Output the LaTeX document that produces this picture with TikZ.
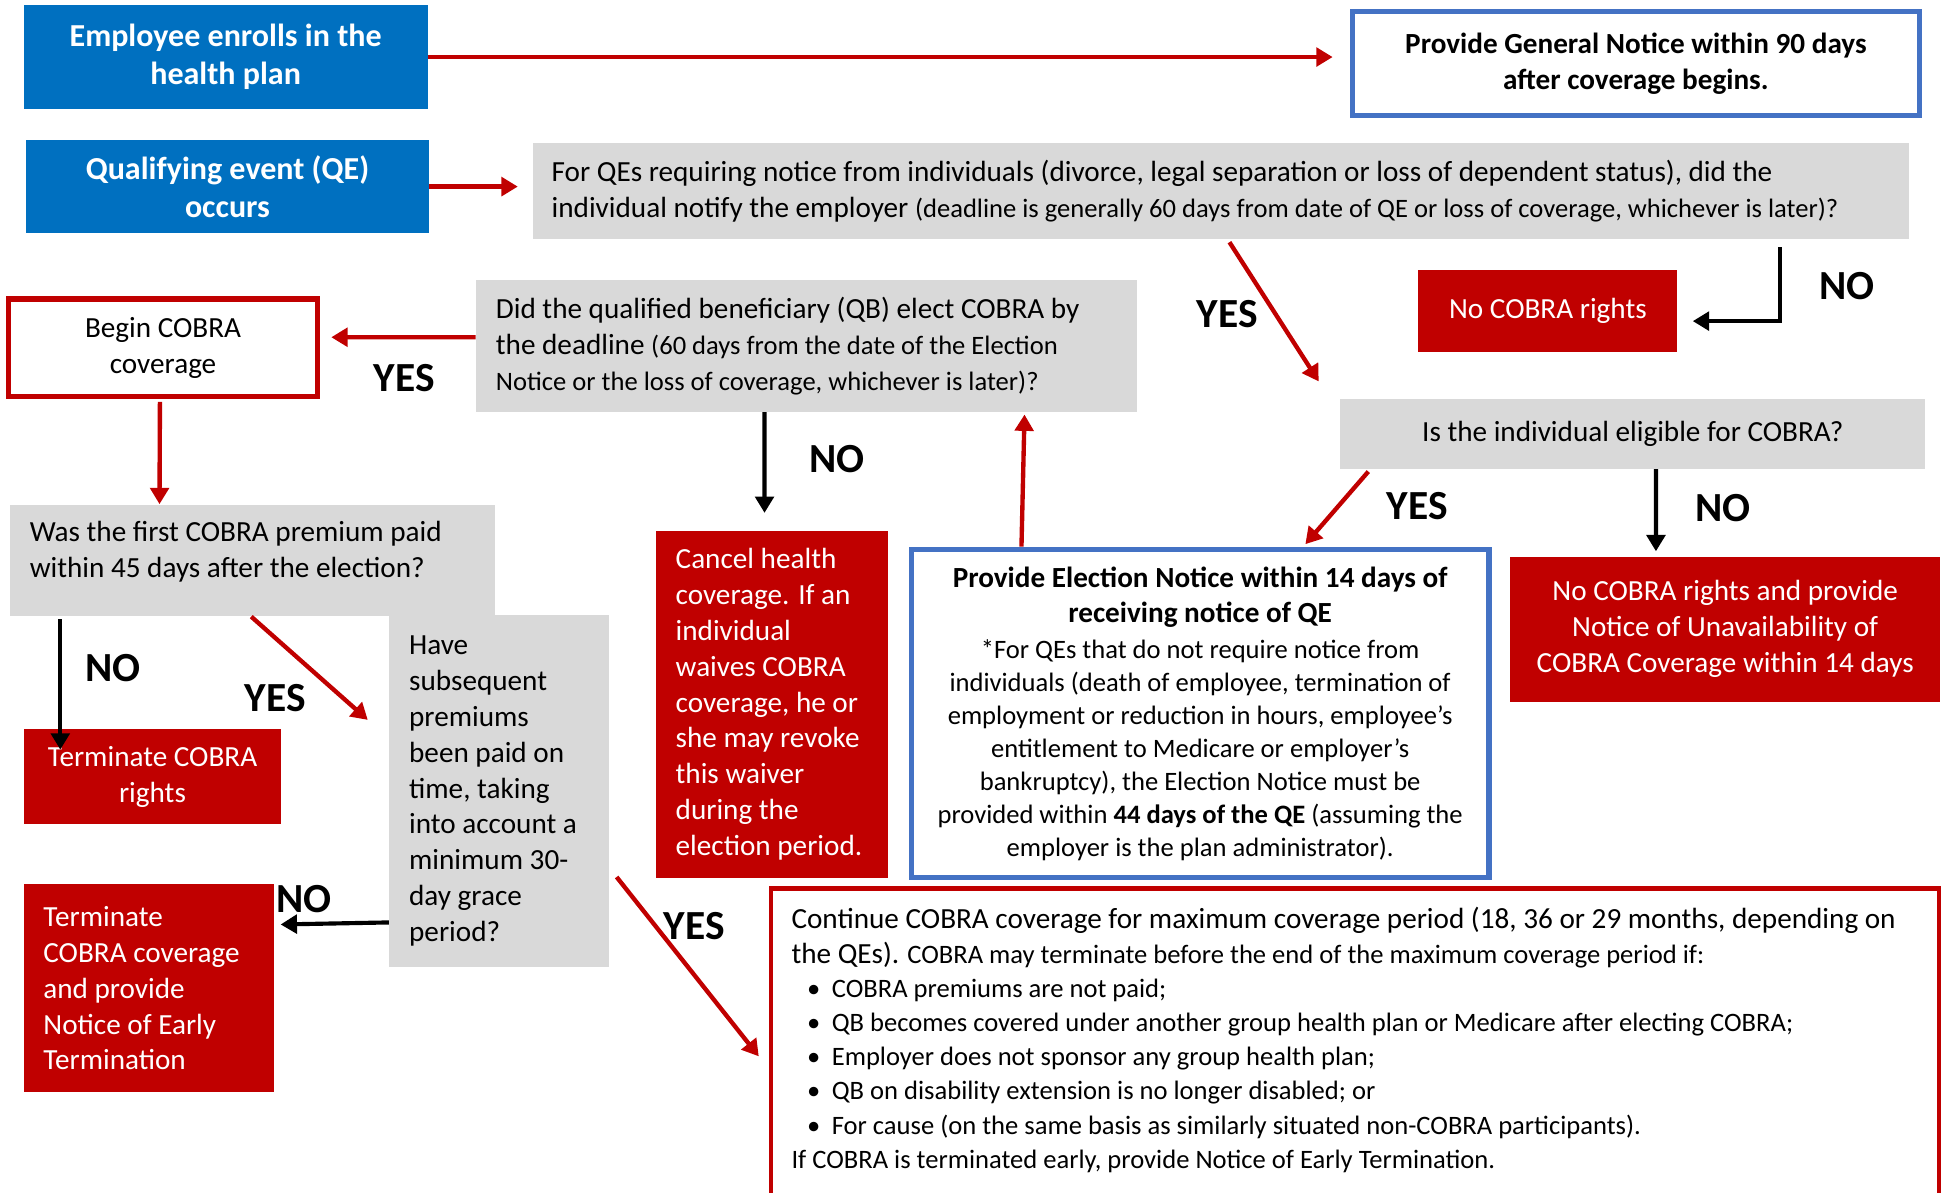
\documentclass[tikz,border=0pt]{standalone}
\usepackage{fontspec}
\setmainfont{Carlito}
\usetikzlibrary{arrows.meta,calc}

\definecolor{cobrablue}{RGB}{0,112,192}
\definecolor{noticeblue}{RGB}{68,114,196}
\definecolor{cobrared}{RGB}{192,0,0}
\definecolor{askgray}{RGB}{217,217,217}

\newcommand{\notesize}{\fontsize{12.2}{15.1}\selectfont}
\newcommand{\headsize}{\fontsize{13.4}{16.5}\selectfont\bfseries}

\tikzset{
	>={Triangle[length=7.5pt, width=8.5pt]},
	every node/.style={font=\fontsize{13.4}{16.5}\selectfont, inner sep=0pt},
	bluebox/.style={rectangle, fill=cobrablue, text=white, align=center, font=\fontsize{14.7}{17.6}\selectfont\bfseries},
	askbox/.style={rectangle, fill=askgray, align=flush left},
	redbox/.style={rectangle, fill=cobrared, text=white},
	noticebox/.style={rectangle, draw=noticeblue, line width=2.4pt, fill=white, align=center},
	redframe/.style={rectangle, draw=cobrared, line width=2.5pt, fill=white, align=center},
	yesarrow/.style={->, draw=cobrared, line width=2pt},
	noarrow/.style={->, draw=black, line width=1.9pt},
	answer/.style={font=\fontsize{19}{22}\selectfont\bfseries},
}

\begin{document}
\begin{tikzpicture}
		\useasboundingbox (0, 0) rectangle (31.36, -19.24);

		\draw
		(3.64, -0.92) node [bluebox, minimum width=6.52cm, minimum height=1.68cm] (enrol) {Employee enrolls in the\\health plan}
		(26.39, -1.02) node [noticebox, minimum width=9.14cm, minimum height=1.68cm, font=\headsize] (general) {Provide General Notice within 90 days\\after coverage begins.};
		\draw[yesarrow, shorten >=0.28cm] (enrol.east) -- (enrol.east -| general.west);

		\draw
		(3.67, -3.01) node [bluebox, minimum width=6.50cm, minimum height=1.50cm] (qevent) {Qualifying event (QE)\\occurs}
		(19.70, -3.08) node [askbox, minimum height=1.56cm, text width=21.6cm, inner xsep=0.30cm] (notify) {For QEs requiring notice from individuals (divorce, legal separation or loss of dependent status), did the\\individual notify the employer {\notesize(deadline is generally 60 days from date of QE or loss of coverage, whichever is later)?}}
		(24.97, -5.02) node [redbox, minimum width=4.18cm, minimum height=1.32cm] (norights) {No COBRA rights}
		(29.80, -4.62) node [answer] (notifyno) {NO}
		(19.80, -5.06) node [answer] (notifyyes) {YES};
		\draw[yesarrow, shorten >=0.24cm] (qevent.east) -- (qevent.east -| notify.west);
		\draw[noarrow] ($(notify.south east)+(-2.10,-0.12)$) |- ($(norights.east)+(0.24,-0.16)$);

		\draw
		(26.34, -7.00) node [askbox, align=center, minimum width=9.44cm, minimum height=1.12cm] (eligible) {Is the individual eligible for COBRA?}
		(27.83, -10.15) node [redbox, align=center, minimum width=6.94cm, minimum height=2.34cm] (unavail) {No COBRA rights and provide\\Notice of Unavailability of\\COBRA Coverage within 14 days}
		(19.36, -11.51) node [noticebox, minimum width=9.32cm, minimum height=5.30cm, font=\notesize] (electnotice) {{\headsize Provide Election Notice within 14 days of}\\[1.4pt]{\headsize receiving notice of QE}\\[1.4pt]*For QEs that do not require notice from\\individuals (death of employee, termination of\\employment or reduction in hours, employee’s\\entitlement to Medicare or employer’s\\bankruptcy), the Election Notice must be\\provided within \textbf{44 days of the QE} (assuming the\\employer is the plan administrator).}
		(22.86, -8.16) node [answer] (eligyes) {YES}
		(27.80, -8.20) node [answer] (eligno) {NO};
		\draw[yesarrow] ($(notify.south west)+(11.24,-0.04)$) -- ($(eligible.north west)+(-0.34,0.28)$);
		\draw[yesarrow] ($(eligible.south west)+(0.46,-0.04)$) -- ($(electnotice.north west)+(6.40,0.04)$);
		\draw[noarrow] ($(eligible.south west)+(5.10,0)$) -- ($(unavail.north west)+(2.36,0.08)$);

		\draw
		(13.01, -5.58) node [askbox, minimum height=2.12cm, text width=10.02cm, inner xsep=0.32cm] (elect) {Did the qualified beneficiary (QB) elect COBRA by\\the deadline {\notesize(60 days from the date of the Election}\\{\notesize Notice or the loss of coverage, whichever is later)?}}
		(2.63, -5.61) node [redframe, minimum width=4.98cm, minimum height=1.58cm] (begin) {Begin COBRA\\coverage}
		(12.45, -11.36) node [redbox, align=flush left, text width=3.10cm, inner xsep=0.32cm, minimum height=5.60cm] (cancel) {Cancel health\\coverage. If an\\individual\\waives COBRA\\coverage, he or\\she may revoke\\this waiver\\during the\\election period.}
		(6.52, -6.10) node [answer] (electyes) {YES}
		(13.50, -7.40) node [answer] (electno) {NO};
		\draw[yesarrow] ($(electnotice.north west)+(1.82,0)$) -- ($(elect.south east)+(-1.82,-0.04)$);
		\draw[yesarrow] ($(elect.west)+(0,0.14)$) -- ($(begin.east)+(0.18,0.17)$);
		\draw[noarrow] ($(elect.south west)+(4.66,0)$) -- ($(cancel.north west)+(1.76,0.28)$);

		\draw
		(4.07, -9.04) node [askbox, minimum height=1.80cm, text width=7.18cm, text depth=0.93cm, inner xsep=0.32cm] (firstpay) {Was the first COBRA premium paid\\within 45 days after the election?}
		(2.46, -12.53) node [redbox, align=center, minimum width=4.16cm, minimum height=1.54cm] (termrights) {Terminate COBRA\\rights}
		(8.05, -12.76) node [askbox, text width=2.90cm, inner xsep=0.32cm, minimum height=5.68cm] (laterpay) {Have\\subsequent\\premiums\\been paid on\\time, taking\\into account a\\minimum 30-\\day grace\\period?}
		(1.82, -10.78) node [answer] (firstno) {NO}
		(4.44, -11.26) node [answer] (firstyes) {YES};
		\draw[yesarrow] ($(begin.south)+(-0.05,-0.04)$) -- ($(firstpay.north west)+(2.42,0)$);
		\draw[noarrow] ($(firstpay.south west)+(0.82,-0.04)$) -- ($(termrights.north west)+(0.60,-0.34)$);
		\draw[yesarrow] ($(firstpay.south west)+(3.90,0)$) -- ($(laterpay.north west)+(-0.34,-1.70)$);

		\draw
		(2.40, -15.94) node [redbox, align=flush left, text width=3.40cm, inner xsep=0.32cm, minimum height=3.36cm] (termearly) {Terminate\\COBRA coverage\\and provide\\Notice of Early\\Termination}
		(12.40, -14.30) node [redframe, anchor=north west, line width=2.2pt, inner xsep=0.33cm, inner ysep=0.30cm] (maxperiod) {\parbox[t][5.6cm][t]{18.18cm}{\raggedright\fontsize{12.2}{15.7}\selectfont
			{\fontsize{13.4}{15.7}\selectfont Continue COBRA coverage for maximum coverage period (18, 36 or 29 months, depending on}\\
			{\fontsize{13.4}{15.7}\selectfont the QEs).} COBRA may terminate before the end of the maximum coverage period if:\\
			\hspace*{0.25cm}\makebox[0.4cm][l]{\textbullet}COBRA premiums are not paid;\\
			\hspace*{0.25cm}\makebox[0.4cm][l]{\textbullet}QB becomes covered under another group health plan or Medicare after electing COBRA;\\
			\hspace*{0.25cm}\makebox[0.4cm][l]{\textbullet}Employer does not sponsor any group health plan;\\
			\hspace*{0.25cm}\makebox[0.4cm][l]{\textbullet}QB on disability extension is no longer disabled; or\\
			\hspace*{0.25cm}\makebox[0.4cm][l]{\textbullet}For cause (on the same basis as similarly situated non-COBRA participants).\\
			If COBRA is terminated early, provide Notice of Early Termination.}}
		(4.90, -14.50) node [answer] (laterno) {NO}
		(11.20, -14.94) node [answer] (lateryes) {YES};
		\draw[noarrow] ($(laterpay.west)+(0,-2.12)$) -- ($(termearly.north east)+(0.10,-0.66)$);
		\draw[yesarrow] ($(laterpay.south east)+(0.12,1.46)$) -- ($(maxperiod.north west)+(-0.16,-2.74)$);
	\end{tikzpicture}
\end{document}
